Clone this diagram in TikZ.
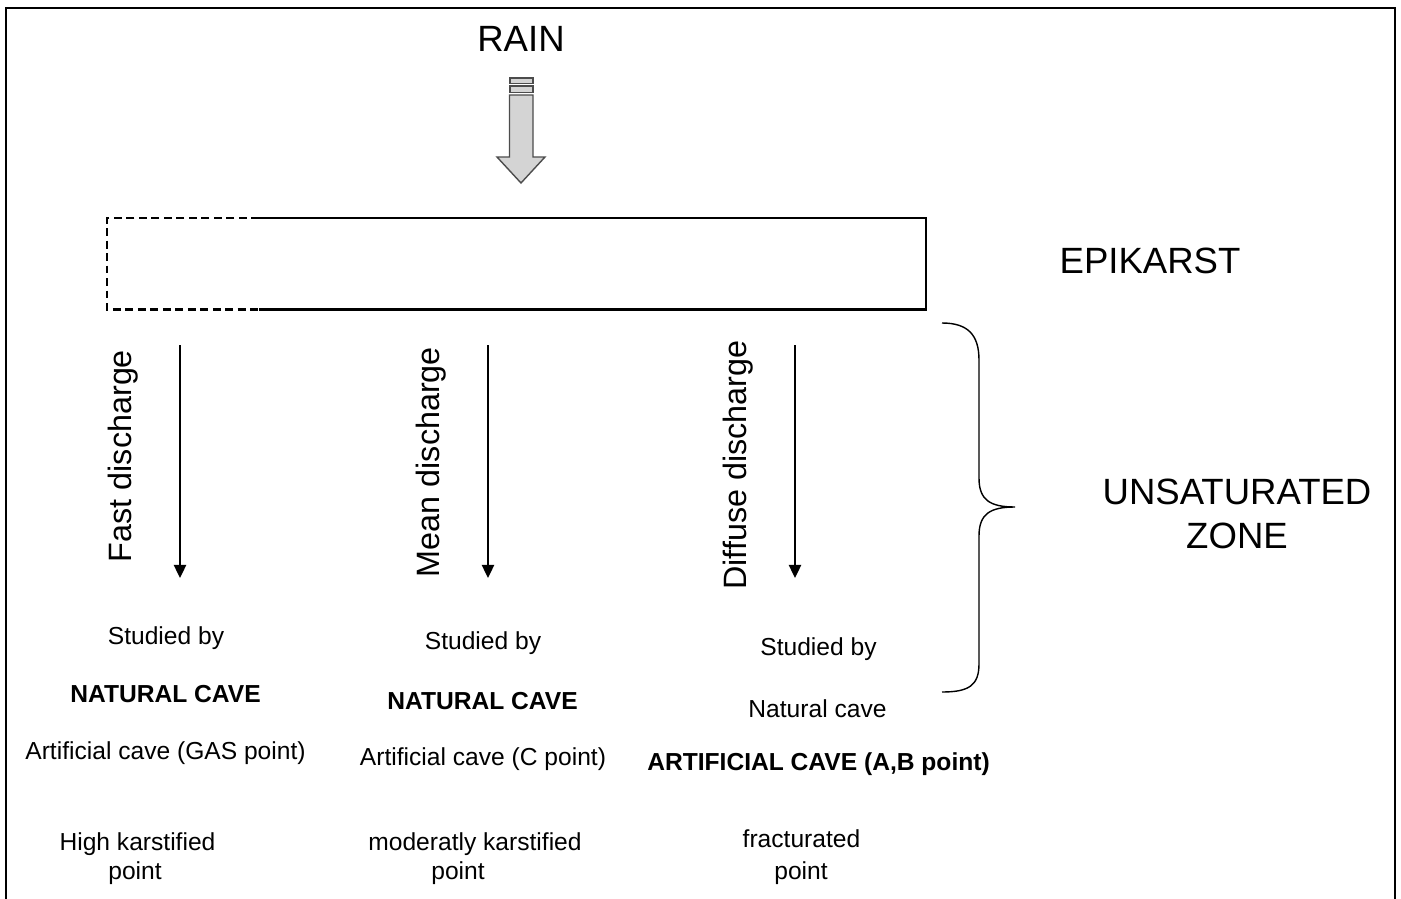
\documentclass[tikz,border=0pt]{standalone}
\usepackage{fontspec}
\setmainfont{Liberation Sans}
\usetikzlibrary{positioning,arrows.meta}
\pgfkeys{tikz/bigtext/.style={font=\fontsize{20.8}{25}\selectfont, inner sep=0pt, align=center}}
\pgfkeys{tikz/smalltext/.style={font=\fontsize{14}{17}\selectfont, inner sep=0pt}}
\pgfkeys{tikz/boldtext/.style={font=\fontsize{14}{17}\selectfont\bfseries, inner sep=0pt}}
\pgfkeys{tikz/flowtext/.style={font=\fontsize{18.4}{22}\selectfont, rotate=90, inner sep=0pt}}
\pgfkeys{tikz/flowarrow/.style={line width=1.1pt, -{Triangle[length=7.5pt,width=7pt]}}}
\begin{document}
\begin{tikzpicture}[x=0.02cm, y=-0.02cm]

	\useasboundingbox (0,0) rectangle (1401,899);
	\draw[line width=0.6pt] (6,910) -- (6,8) -- (1395,8) -- (1395,910);

	\node[bigtext] (rain) at (521,39) {RAIN};
	\draw[fill=black!17, draw=black!70, line width=0.8pt] (510,78) rectangle (533,83.5);
	\draw[fill=black!17, draw=black!70, line width=0.8pt] (510,86) rectangle (533,92.5);
	\draw[fill=black!17, draw=black!70, line width=0.8pt] (509.5,95) -- (533,95) -- (533,157) -- (545,157) -- (521,183) -- (497,157) -- (509.5,157) -- cycle;

	\draw[line width=1.3pt, dash pattern=on 4.5pt off 2.6pt] (259,218) -- (107,218) -- (107,309.5) -- (259,309.5);
	\draw[line width=1.3pt] (259,218) -- (926,218) -- (926,309.5) -- (259,309.5);
	\node[bigtext] (epi) at (1150,261) {EPIKARST};

	\draw[line width=0.8pt] (942,323) .. controls (968,323) and (979,335) .. (979,360) -- (979,478) .. controls (979,500) and (990,507) .. (1015,507) .. controls (990,507) and (979,514) .. (979,536) -- (979,664) .. controls (979,686) and (968,692) .. (942,692);
	\node[bigtext] (unsat) at (1237,514) {UNSATURATED\\ZONE};

	\coordinate (fasttop) at (180,345);
	\coordinate (fastend) at (180,578);
	\coordinate (meantop) at (488,345);
	\coordinate (meanend) at (488,578);
	\coordinate (difftop) at (795,345);
	\coordinate (diffend) at (795,578);
	\draw[flowarrow] (fasttop) -- (fastend);
	\draw[flowarrow] (meantop) -- (meanend);
	\draw[flowarrow] (difftop) -- (diffend);

	\node[flowtext] (fast) at (123,456) {Fast discharge};
	\node[flowtext] (mean) at (431,462) {Mean discharge};
	\node[flowtext] (diff) at (738,465) {Diffuse discharge};

	% fast column
	\node[smalltext] (stud1) at (166,638) {Studied by};
	\node[boldtext] (nat1) at (165.5,694) {NATURAL CAVE};
	\node[smalltext] (art1) at (165.5,753) {Artificial cave (GAS point)};
	\node[smalltext] (kind1) at (137.5,844) {High karstified};
	\node[smalltext] (pt1) at (135,873) {point};

	% mean column
	\node[smalltext] (stud2) at (483,643) {Studied by};
	\node[boldtext] (nat2) at (482.5,701) {NATURAL CAVE};
	\node[smalltext] (art2) at (483,759) {Artificial cave (C point)};
	\node[smalltext] (kind2) at (475,844) {moderatly karstified};
	\node[smalltext] (pt2) at (458,873) {point};

	% diffuse column
	\node[smalltext] (stud3) at (818.5,649) {Studied by};
	\node[smalltext] (nat3) at (817.5,709) {Natural cave};
	\node[boldtext] (art3) at (818.5,764) {ARTIFICIAL CAVE (A,B point)};
	\node[smalltext] (kind3) at (801.5,839) {fracturated};
	\node[smalltext] (pt3) at (801,873) {point};

\end{tikzpicture}
\end{document}
